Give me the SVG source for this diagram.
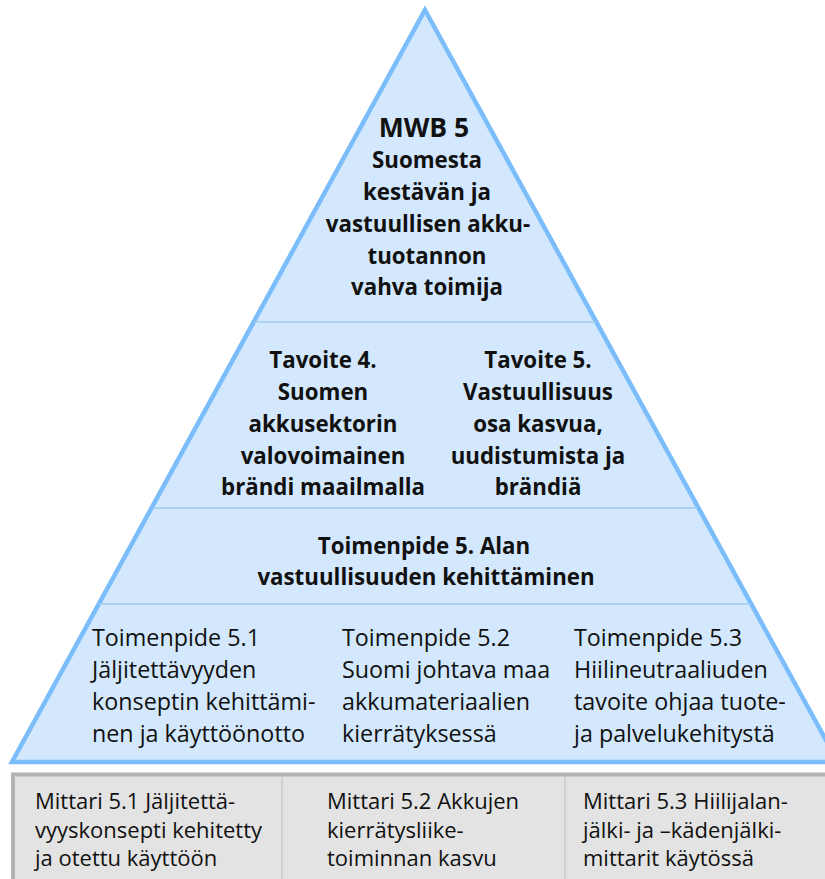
<svg xmlns="http://www.w3.org/2000/svg" width="825" height="879" viewBox="0 0 825 879">
  <style>
    .bold { font-family: "Open Sans", "Noto Sans", sans-serif; font-weight: 700; font-size: 22.3px; fill: #111; text-anchor: middle; }
    .title { font-size: 26.5px; }
    .reg { font-family: "Open Sans", "Noto Sans", sans-serif; font-weight: 400; font-size: 23.3px; fill: #111; }
    .metric { font-family: "Open Sans", "Noto Sans", sans-serif; font-weight: 400; font-size: 22px; fill: #111; }
    .tier-line { stroke: #9fcbf0; stroke-width: 1.6; fill: none; }
    .col-line { stroke: #c4c4c4; stroke-width: 1.2; }
  </style>

  <rect width="825" height="879" fill="#ffffff"/>

  <!-- pyramid body -->
  <g id="pyramid">
    <polygon points="425,10 838,762 12,762" fill="#d3e8fc" stroke="#7bbdfa" stroke-width="4.5" stroke-linejoin="miter"/>
  </g>

  <!-- horizontal tier separators -->
  <g id="tier-lines">
    <line class="tier-line" x1="254" y1="322" x2="596" y2="322"/>
    <line class="tier-line" x1="152" y1="508" x2="698" y2="508"/>
    <line class="tier-line" x1="99" y1="604" x2="751" y2="604"/>
  </g>

  <!-- apex: vision -->
  <g id="vision-mwb5">
    <text class="bold title" x="424" y="137">MWB 5</text>
    <text class="bold" x="427" y="168">Suomesta</text>
    <text class="bold" x="427" y="200">kestävän ja</text>
    <text class="bold" x="428" y="232">vastuullisen akku-</text>
    <text class="bold" x="427" y="264">tuotannon</text>
    <text class="bold" x="427" y="295">vahva toimija</text>
  </g>

  <!-- goals -->
  <g id="goal-4">
    <text class="bold" x="323" y="368">Tavoite 4.</text>
    <text class="bold" x="323" y="400">Suomen</text>
    <text class="bold" x="323" y="432">akkusektorin</text>
    <text class="bold" x="323" y="464">valovoimainen</text>
    <text class="bold" x="323" y="495">brändi maailmalla</text>
  </g>
  <g id="goal-5">
    <text class="bold" x="538" y="368">Tavoite 5.</text>
    <text class="bold" x="538" y="400">Vastuullisuus</text>
    <text class="bold" x="538" y="432">osa kasvua,</text>
    <text class="bold" x="538" y="464">uudistumista ja</text>
    <text class="bold" x="538" y="495">brändiä</text>
  </g>

  <!-- action -->
  <g id="action-5">
    <text class="bold" x="424" y="554">Toimenpide 5. Alan</text>
    <text class="bold" x="426" y="585">vastuullisuuden kehittäminen</text>
  </g>

  <!-- sub-actions -->
  <g id="action-5-1">
    <text class="reg" x="92" y="646">Toimenpide 5.1</text>
    <text class="reg" x="92" y="678">Jäljitettävyyden</text>
    <text class="reg" x="92" y="710">konseptin kehittämi-</text>
    <text class="reg" x="92" y="742">nen ja käyttöönotto</text>
  </g>
  <g id="action-5-2">
    <text class="reg" x="342" y="646">Toimenpide 5.2</text>
    <text class="reg" x="342" y="678">Suomi johtava maa</text>
    <text class="reg" x="342" y="710">akkumateriaalien</text>
    <text class="reg" x="342" y="742">kierrätyksessä</text>
  </g>
  <g id="action-5-3">
    <text class="reg" x="574" y="646">Toimenpide 5.3</text>
    <text class="reg" x="574" y="678">Hiilineutraaliuden</text>
    <text class="reg" x="574" y="710">tavoite ohjaa tuote-</text>
    <text class="reg" x="574" y="742">ja palvelukehitystä</text>
  </g>

  <!-- metrics band -->
  <g id="metrics">
    <rect x="13" y="774.5" width="830" height="120" fill="#e3e3e3" stroke="#b3b3b3" stroke-width="4"/>
    <line class="col-line" x1="282" y1="777" x2="282" y2="879"/>
    <line class="col-line" x1="565" y1="777" x2="565" y2="879"/>
  </g>
  <g id="metric-5-1">
    <text class="metric" x="35" y="809">Mittari 5.1 Jäljitettä-</text>
    <text class="metric" x="35" y="838">vyyskonsepti kehitetty</text>
    <text class="metric" x="35" y="866">ja otettu käyttöön</text>
  </g>
  <g id="metric-5-2">
    <text class="metric" x="327" y="809">Mittari 5.2 Akkujen</text>
    <text class="metric" x="327" y="838">kierrätysliike-</text>
    <text class="metric" x="327" y="866">toiminnan kasvu</text>
  </g>
  <g id="metric-5-3">
    <text class="metric" x="583" y="809">Mittari 5.3 Hiilijalan-</text>
    <text class="metric" x="583" y="838">jälki- ja –kädenjälki-</text>
    <text class="metric" x="583" y="866">mittarit käytössä</text>
  </g>
</svg>
